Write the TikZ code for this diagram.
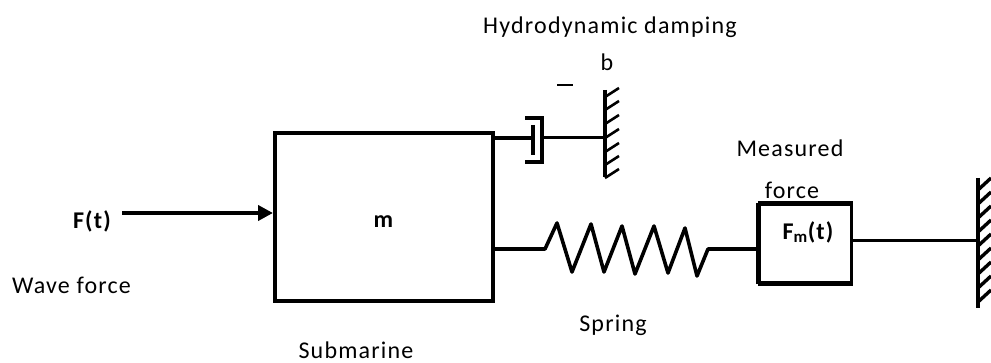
\documentclass[tikz,border=0pt]{standalone}
\usepackage{fontspec}
\setmainfont[LetterSpace=5]{Carlito}
\usetikzlibrary{arrows.meta}
\tikzset{
  lbl/.style={inner sep=0pt,font=\fontsize{24}{28}\selectfont},
  blbl/.style={inner sep=0pt,font=\fontsize{24}{28}\selectfont\bfseries},
  box/.style={draw,line width=4pt,inner sep=0pt,minimum width=#1},
  rod/.style={line width=3pt},
  hatchline/.style={line width=2.6pt},
  wallline/.style={line width=3.2pt}
}
\begin{document}
\begin{tikzpicture}[x=1pt,y=-1pt]
\useasboundingbox (0,0) rectangle (991,363);
% texts
\node[lbl] (hd) at (610,27) {Hydrodynamic damping};
\node[lbl] (b) at (607,62) {b};
\node[lbl] (meas) at (790,148) {Measured};
\node[lbl] (fo) at (792,190) {force};
\node[blbl] (ft) at (92,221) {F(t)};
\node[lbl] (wf) at (71.5,285) {Wave force};
\node[lbl] (sp) at (613,325) {Spring};
\node[lbl] (sub) at (356,350) {Submarine};
% boxes
\node[box=218pt,minimum height=168pt] (mass) at (384,217.5) {};
\node[blbl] (mlab) at (383.5,222) {m};
\node[box=92pt,minimum height=78pt,line width=3pt] (sensor) at (805.5,243.5) {};
\draw[line width=4.6pt] (sensor.north west) -- (sensor.north east);
\draw[line width=4.6pt] (sensor.south west) -- (sensor.south east);
\draw[line width=4.4pt] (sensor.north west) -- (sensor.south west);
\node[blbl] (fm) at (808,232) {F\textsubscript{m}(t)};
% anchors
\coordinate (forceStart) at (122,213);
\coordinate (forceEnd) at (mass.west|-forceStart);
\coordinate (damperA) at (mass.east|-0,138);
\coordinate (piston) at (533,138);
\coordinate (cyl) at (543,138);
\coordinate (wallA) at (605,138);
\coordinate (springA) at (mass.east|-0,249);
\coordinate (springB) at (sensor.west|-0,249);
\coordinate (sensorOut) at (sensor.east|-0,241);
\coordinate (wallB) at (978,241);
% force arrow
\draw[line width=4pt,-{Triangle[length=15pt,width=15pt]}] (forceStart) -- (forceEnd);
% damper
\draw[line width=4pt] (damperA) -- (piston);
\draw[line width=4.5pt] (533,125) -- (533,155);
\draw[line width=4.5pt,line join=miter] (525,118) -- (542,118) -- (542,162) -- (525,162);
\draw[rod] (cyl) -- (wallA);
\draw[line width=1.8pt] (557,85) -- (573,85);
% wall 1
\draw[wallline] (605,90) -- (605,177);
\foreach \y in {97,110,124,138,152,165,178}
  \draw[hatchline] (605,\y) -- (619,\y-9);
% spring
\draw[line width=3.6pt,line join=round] (springA) -- (545,249) -- (557,223) -- (572,272) -- (591,224) -- (604,272) -- (622,226) -- (635,274) -- (654,226) -- (668,273) -- (685,228) -- (697,276) -- (708,249) -- (springB);
% sensor to wall
\draw[rod] (sensorOut) -- (wallB);
% wall 2
\draw[line width=4pt] (978,178) -- (978,308);
\foreach \y in {190,204,218,232,246,260,274,288,302}
  \draw[line width=3.4pt] (978,\y) -- (991,\y-12);
\end{tikzpicture}
\end{document}
